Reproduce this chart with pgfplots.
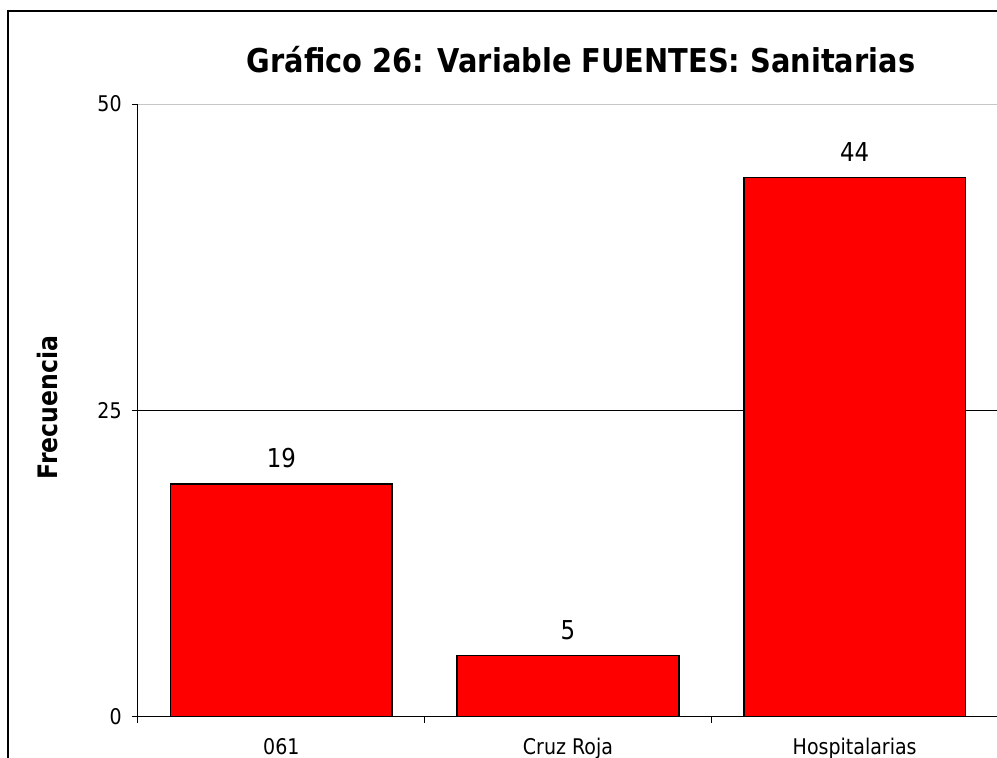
\documentclass[border=0pt]{standalone}
\usepackage{fontspec}
\setmainfont{DejaVu Sans}[FakeStretch=0.88]
\usepackage{pgfplots}
\pgfplotsset{compat=1.18}
\definecolor{barred}{HTML}{FF0000}

\begin{document}
\begin{tikzpicture}
  % page extent (1 px of the reference = 0.5pt)
  \path[use as bounding box] (0,0) rectangle (498.5pt,-379pt);
  \draw[line width=0.6pt] (4pt,-379pt) -- (4pt,-5.5pt) -- (498.5pt,-5.5pt);
  \node[anchor=base,font=\fontsize{16.4}{19}\selectfont\bfseries]
    at (290.5pt,-36.5pt) {Gráfico 26: Variable FUENTES: Sanitarias};
  \begin{axis}[
    scale only axis,
    width=430pt,height=306.5pt,
    at={(69pt,-358.5pt)},anchor=south west,
    xmin=-0.5,xmax=2.5,ymin=0,ymax=50,
    axis x line*=bottom,axis y line*=left,
    axis line style={line width=0.5pt},
    tick align=outside,
    major tick length=3pt,
    tick style={black,line width=0.5pt},
    xtick={-0.5,0.5,1.5,2.5},
    xticklabels={,,,},
    extra x ticks={0,1,2},
    extra x tick labels={061,Cruz Roja,Hospitalarias},
    extra x tick style={major tick length=0pt,tick style={draw=none},
      tick label style={inner sep=0pt,anchor=north,yshift=-10.5pt}},
    ytick={0,25,50},
    extra y ticks={25},
    extra y tick labels={},
    extra y tick style={grid=major,major grid style={black,line width=0.5pt}},
    yticklabel style={inner sep=0pt,anchor=east,xshift=-5pt},
    /pgf/number format/assume math mode=true,
    tick label style={font=\fontsize{10.8}{12}\selectfont},
    ylabel={\textbf{Frecuencia}},
    every axis y label/.style={at={(-45pt,154.75pt)},rotate=90,anchor=center,
      font=\fontsize{13.4}{15}\selectfont},
    ybar,bar width=0.774,
    nodes near coords,
    nodes near coords style={font=\fontsize{13}{15}\selectfont,inner sep=0pt,
      anchor=south,yshift=7.5pt},
  ]
    \addplot[fill=barred,draw=black,line width=0.8pt]
      coordinates {(0,19) (1,5) (2,44)};
    \draw[gray!45,line width=0.8pt] (rel axis cs:0,1) -- (rel axis cs:1,1);
  \end{axis}
\end{tikzpicture}
\end{document}
